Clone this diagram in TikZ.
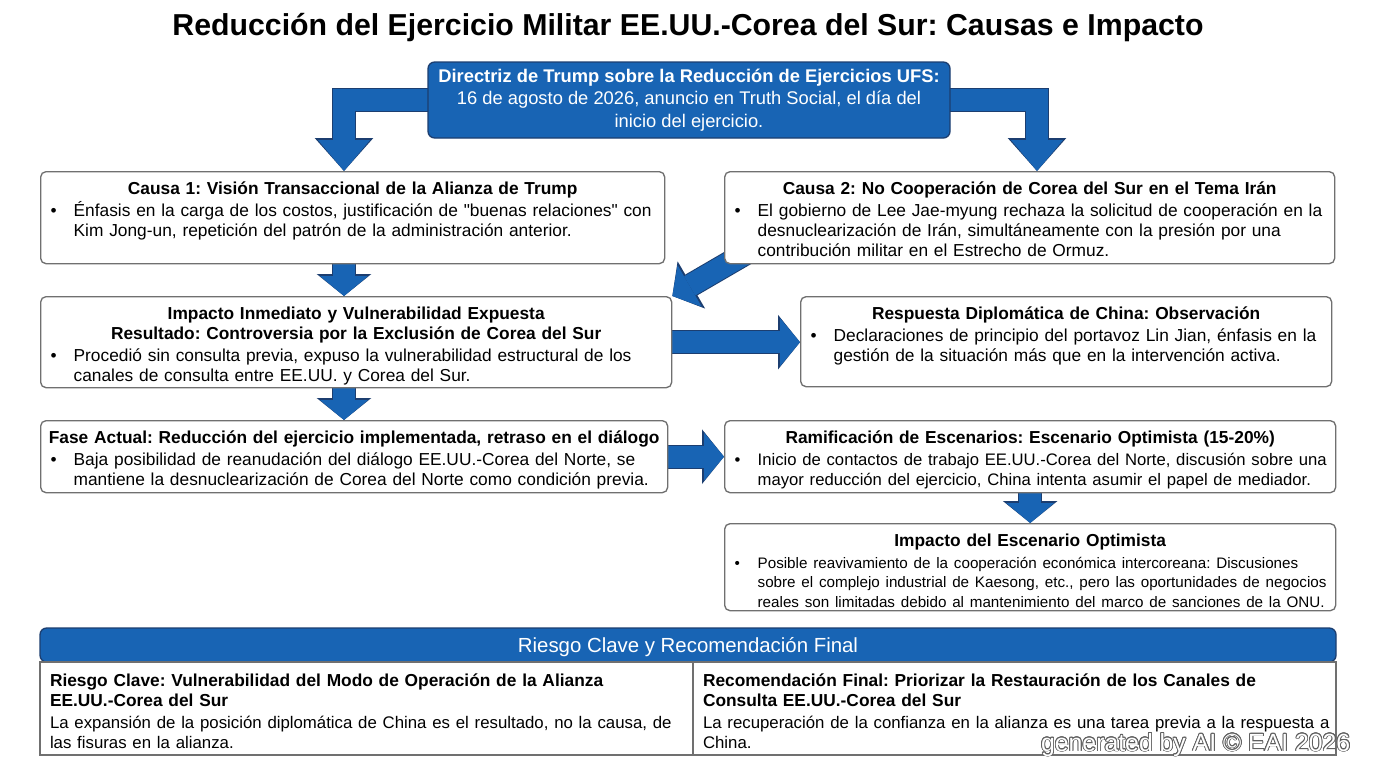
\documentclass[tikz,border=0pt]{standalone}
\usepackage{fontspec}
\setmainfont{Liberation Sans}[Ligatures=TeXOff]
\usepackage{xcolor}
\usepackage{contour}
\contourlength{0.6pt}
\usetikzlibrary{arrows.meta,backgrounds}

\definecolor{ufsblue}{RGB}{24,100,180}
\definecolor{ufsedge}{RGB}{28,62,112}
\definecolor{boxline}{RGB}{112,112,112}
\definecolor{stampgray}{RGB}{95,95,95}

\frenchspacing
\newcommand{\titlefont}{\fontsize{22.7}{26}\selectfont\bfseries}
\newcommand{\bodyfont}{\fontsize{13}{15}\selectfont}
\newcommand{\headfont}{\fontsize{15.3}{18}\selectfont}
\newcommand{\cellfont}{\fontsize{13}{15}\selectfont}
\newcommand{\boxtitle}[1]{\noindent\makebox[\linewidth]{\bfseries #1}\par}
\newcommand{\bul}[1]{\vspace{1.5pt}\hangindent=17.25pt\hangafter=0\noindent\llap{\makebox[17.25pt][l]{\textbullet}}#1\par}
\newcommand{\bline}[1]{\mbox{#1}}

\begin{document}
\begin{tikzpicture}[x=0.75pt,y=-0.75pt,
    card/.style={draw=boxline, line width=1pt, fill=white, rounded corners=4pt,
      anchor=north west, inner xsep=7.5pt, inner ysep=6.75pt, text height=10.5pt,
      align=left, font=\bodyfont},
    cell/.style={draw=boxline, line width=1pt, fill=white, anchor=north west, outer sep=0pt,
      inner xsep=7.5pt, inner ysep=7.5pt, text height=10.5pt, text depth=44.25pt,
      align=left, font=\cellfont},
    bluebar/.style={draw=ufsedge, line width=1pt, fill=ufsblue, text=white, rounded corners=5pt, outer sep=0pt},
    shortarrow/.style={line join=miter, draw=ufsblue, line width=16.5pt,
      -{Triangle[length=15pt,width=36pt,line width=0pt]},
      preaction={draw=ufsedge, line width=18pt, -{Triangle[length=16.5pt,width=41pt,line width=0pt]}}},
    longarrow/.style={line join=miter, draw=ufsblue, line width=16.5pt,
      -{Triangle[length=23.25pt,width=39pt,line width=0pt]},
      preaction={draw=ufsedge, line width=18pt, -{Triangle[length=24.75pt,width=44pt,line width=0pt]}}}]
    \useasboundingbox (0,0) rectangle (1376,768);

    \coordinate (lcol) at (344,0);
    \coordinate (rcol) at (1037,0);

    \node[font=\titlefont, anchor=base] (title) at (688,35)
    {Reducción del Ejercicio Militar EE.UU.-Corea del Sur: Causas e Impacto};

    \node[bluebar, minimum width=391.5pt, minimum height=57pt, align=center,
      font=\fontsize{13.75}{17}\selectfont] (trump) at (689,100)
    {\textbf{Directriz de Trump sobre la Reducción de Ejercicios UFS:}\\
     16 de agosto de 2026, anuncio en Truth Social, el día del\\
     inicio del ejercicio.};

    % causas
    \node[card, text width=453pt, text depth=45pt] (causa1) at (40,171)
    {\boxtitle{Causa 1: Visión Transaccional de la Alianza de Trump}
     \bul{\bline{Énfasis en la carga de los costos, justificación de "buenas relaciones" con}\newline
       \bline{Kim Jong-un, repetición del patrón de la administración anterior.}}};

    \node[card, text width=442.5pt, text depth=45pt] (causa2) at (724,171)
    {\boxtitle{Causa 2: No Cooperación de Corea del Sur en el Tema Irán}
     \bul{\bline{El gobierno de Lee Jae-myung rechaza la solicitud de cooperación en la}\newline
       \bline{desnuclearización de Irán, simultáneamente con la presión por una}\newline
       \bline{contribución militar en el Estrecho de Ormuz.}}};

    % impacto
    \node[card, text width=458.25pt, text depth=44.25pt] (impacto) at (40,296)
    {\boxtitle{Impacto Inmediato y Vulnerabilidad Expuesta}
     \boxtitle{Resultado: Controversia por la Exclusión de Corea del Sur}
     \bul{\bline{Procedió sin consulta previa, expuso la vulnerabilidad estructural de los}\newline
       \bline{canales de consulta entre EE.UU. y Corea del Sur.}}};

    \node[card, text width=383.25pt, text depth=43.5pt] (respuesta) at (800,296)
    {\boxtitle{Respuesta Diplomática de China: Observación}
     \bul{\bline{Declaraciones de principio del portavoz Lin Jian, énfasis en la}\newline
       \bline{gestión de la situación más que en la intervención activa.}}};

    % fase y escenarios
    \node[card, text width=455.25pt, text depth=30pt] (fase) at (40,420)
    {\boxtitle{Fase Actual: Reducción del ejercicio implementada, retraso en el diálogo}
     \bul{\bline{Baja posibilidad de reanudación del diálogo EE.UU.-Corea del Norte, se}\newline
       \bline{mantiene la desnuclearización de Corea del Norte como condición previa.}}};

    \node[card, text width=443.25pt, text depth=30pt] (ramif) at (724,420)
    {\boxtitle{Ramificación de Escenarios: Escenario Optimista (15-20\%)}
     \fontsize{12.5}{15}\selectfont
     \bul{\bline{Inicio de contactos de trabajo EE.UU.-Corea del Norte, discusión sobre una}\newline
       \bline{mayor reducción del ejercicio, China intenta asumir el papel de mediador.}}};

    \node[card, text width=443.25pt, text depth=41.25pt] (optim) at (724,523)
    {\boxtitle{Impacto del Escenario Optimista}
     \fontsize{11.4}{14.6}\selectfont
     \bul{\bline{Posible reavivamiento de la cooperación económica intercoreana: Discusiones}\newline
       \bline{sobre el complejo industrial de Kaesong, etc., pero las oportunidades de negocios}\newline
       \bline{reales son limitadas debido al mantenimiento del marco de sanciones de la ONU.}}};

    % riesgo y recomendacion
    \node[bluebar, anchor=north west, minimum width=972pt, minimum height=25.5pt,
      text height=13.5pt, text depth=3pt, font=\headfont] (riskhead) at (40,628)
    {Riesgo Clave y Recomendación Final};
    \node[cell, text width=474.75pt] (riskcell) at (riskhead.south west)
    {{\bfseries Riesgo Clave: Vulnerabilidad del Modo de Operación de la Alianza\\
      EE.UU.-Corea del Sur\par}\vspace{1.5pt}
     \fontsize{12.6}{15}\selectfont
     \bline{La expansión de la posición diplomática de China es el resultado, no la causa, de}\\
     las fisuras en la alianza.};
    \node[cell, text width=467.25pt] (advicecell) at (riskcell.north east)
    {{\bfseries Recomendación Final: Priorizar la Restauración de los Canales de\\
      Consulta EE.UU.-Corea del Sur\par}\vspace{1.5pt}
     \fontsize{12.6}{15}\selectfont
     \bline{La recuperación de la confianza en la alianza es una tarea previa a la respuesta a}\\
     China.};

    \node[anchor=base east, text=white, font=\fontsize{18.6}{20}\selectfont] (stamp) at (1355,751)
    {\contour{stampgray}{generated by AI © EAI 2026}};

    \begin{scope}[on background layer]
    \fill[white] (0,0) rectangle (1376,768);
    \draw[longarrow] (trump.center) -| (causa1.north -| lcol);
    \draw[longarrow] (trump.center) -| (causa2.north -| rcol);
    \draw[shortarrow] (causa1.south -| lcol) -- (impacto.north -| lcol);
    \draw[shortarrow] ([shift={(32,-17)}]causa2.south west) -- (impacto.north east);
    \draw[shortarrow] (impacto.east) -- (impacto.east -| respuesta.west);
    \draw[shortarrow] (impacto.south -| lcol) -- (fase.north -| lcol);
    \draw[shortarrow] (fase.east) -- (fase.east -| ramif.west);
    \draw[shortarrow] (ramif.south) -- (optim.north);
    \end{scope}
\end{tikzpicture}
\end{document}
